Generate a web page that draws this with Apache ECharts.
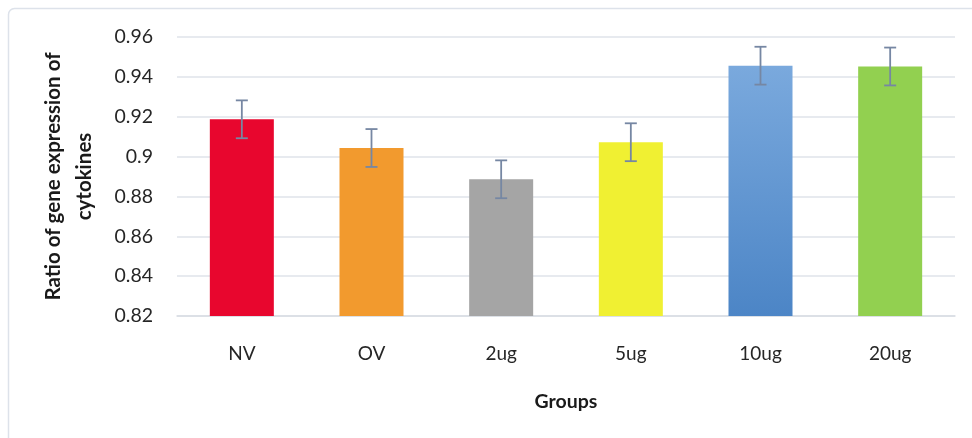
<!DOCTYPE html>
<html>
<head>
<meta charset="utf-8">
<script src="https://cdn.jsdelivr.net/npm/echarts@6/dist/echarts.min.js"></script>
<style>html,body{margin:0;padding:0;background:#fff}#chart{width:972px;height:438px}</style>
</head>
<body>
<div id="chart"></div>
<script>
var categories = ['NV', 'OV', '2ug', '5ug', '10ug', '20ug'];
var values = [0.9187, 0.9043, 0.8886, 0.9072, 0.9456, 0.9452];
var errors = [0.0095, 0.0095, 0.0095, 0.0095, 0.0095, 0.0095];
var yTicks = [0.82, 0.84, 0.86, 0.88, 0.9, 0.92, 0.94, 0.96];

var barColors = [
  '#e8062e',
  '#f29a2e',
  '#a5a5a5',
  '#f0f032',
  new echarts.graphic.LinearGradient(0, 0, 0, 1, [{offset: 0, color: '#7aa9dd'}, {offset: 1, color: '#4c85c6'}]),
  '#92d050'
];

var FONT = 'Lato';
var chart = echarts.init(document.getElementById('chart'), null, {renderer: 'canvas'});

var errData = categories.map(function (c, i) { return [i, values[i] - errors[i], values[i] + errors[i]]; });

chart.setOption({
  animation: false,
  backgroundColor: '#ffffff',
  graphic: [{
    type: 'rect', z: -10, silent: true,
    shape: {x: 8.5, y: 8.5, width: 990, height: 460, r: 6},
    style: {fill: 'none', stroke: '#dde2ea', lineWidth: 1.5}
  }],
  grid: {left: 177, right: 17, top: 37, bottom: 122},
  xAxis: {
    type: 'category',
    data: categories,
    name: 'Groups',
    nameLocation: 'middle',
    nameGap: 76,
    nameTextStyle: {fontFamily: FONT, fontSize: 19.5, fontWeight: 'bold', color: '#1a1a1a'},
    axisLine: {show: true, lineStyle: {color: '#d9dde4', width: 1.5}},
    axisTick: {show: false},
    axisLabel: {margin: 28, fontFamily: FONT, fontSize: 19, color: '#262626'},
    splitLine: {show: false}
  },
  yAxis: {
    type: 'value',
    min: 0.82,
    max: 0.96,
    interval: 0.02,
    name: 'Ratio of gene expression of\ncytokines',
    nameLocation: 'middle',
    nameGap: 77,
    nameTextStyle: {fontFamily: FONT, fontSize: 20.5, fontWeight: 'bold', color: '#1a1a1a', lineHeight: 31, align: 'center'},
    axisLine: {show: false},
    axisTick: {show: false},
    axisLabel: {
      margin: 24, fontFamily: FONT, fontSize: 19.5, color: '#262626',
      formatter: function (v) {
        var best = yTicks.reduce(function (a, b) { return Math.abs(b - v) < Math.abs(a - v) ? b : a; });
        return String(best);
      }
    },
    splitLine: {show: true, lineStyle: {color: '#dfe3ea', width: 1.5}}
  },
  series: [{
    type: 'bar',
    data: values.map(function (v, i) { return {value: v, itemStyle: {color: barColors[i]}}; }),
    barWidth: 64,
    z: 2
  }, {
    type: 'custom',
    z: 5,
    data: errData,
    renderItem: function (params, api) {
      var x = api.value(0);
      var lo = api.coord([x, api.value(1)]);
      var hi = api.coord([x, api.value(2)]);
      var cap = 6;
      var st = {stroke: '#7687a3', lineWidth: 1.8};
      return {
        type: 'group',
        children: [
          {type: 'line', shape: {x1: hi[0], y1: hi[1], x2: lo[0], y2: lo[1]}, style: st},
          {type: 'line', shape: {x1: hi[0] - cap, y1: hi[1], x2: hi[0] + cap, y2: hi[1]}, style: st},
          {type: 'line', shape: {x1: lo[0] - cap, y1: lo[1], x2: lo[0] + cap, y2: lo[1]}, style: st}
        ]
      };
    }
  }]
});
</script>
</body>
</html>
